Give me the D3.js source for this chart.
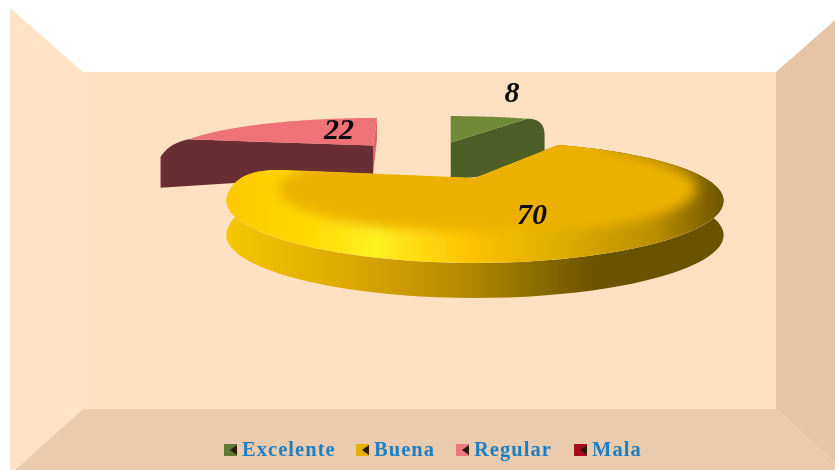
<!DOCTYPE html>
<html><head><meta charset="utf-8">
<script src="https://cdn.jsdelivr.net/npm/d3@7"></script>
<style>html,body{margin:0;padding:0;background:#fff}svg{display:block}</style>
</head><body><div id="c"></div>
<script>
const categories=["Excelente","Buena","Regular","Mala"];
const values=[8,70,22,0];
const topColors=["#6f8a38","#ecb100","#ee7277","#b01218"];
const wallColors=["#4d5f27","url(#wallY)","#672f33","#6a1014"];
const edgeColors=["#4d5f27","#6b5200","#d9656f","#6a1014"];
const swatchColors=["#5f7a30","#e6ae00","#ee7a80","#a8101a"];
const W=835,H=470;
const svg=d3.select("#c").append("svg").attr("width",W).attr("height",H);
const defs=svg.append("defs");
defs.append("filter").attr("id","soft").attr("x","-2%").attr("y","-2%").attr("width","104%").attr("height","104%")
  .append("feGaussianBlur").attr("stdDeviation",0.55);
defs.append("filter").attr("id","bev").attr("filterUnits","userSpaceOnUse").attr("x",150).attr("y",100).attr("width",650).attr("height",250)
  .append("feGaussianBlur").attr("stdDeviation",6);
function grad(id,stops){
  const g=defs.append("linearGradient").attr("id",id).attr("gradientUnits","userSpaceOnUse")
    .attr("x1",226).attr("x2",724).attr("y1",0).attr("y2",0);
  stops.forEach(s=>g.append("stop").attr("offset",s[0]).attr("stop-color",s[1]));
}
grad("wallY",[[0,"#f6c600"],[.25,"#dca800"],[.5,"#b08600"],[.74,"#6b5200"],[1,"#6b5200"]]);
grad("bevelY",[[0,"#ffc800"],[.16,"#ffd800"],[.3,"#fff020"],[.48,"#ffc400"],[.66,"#e0ae00"],[.86,"#bb8e00"],[.95,"#8a6a00"],[1,"#6b5200"]]);

const root=svg.append("g").attr("filter","url(#soft)");
const poly=(pts,f)=>root.append("path").attr("d",d3.line()(pts)+"Z").attr("fill",f);
poly([[10,8],[83,72],[83,409],[15,470],[10,470]],"#fee3c6");
poly([[83,72],[776,72],[776,409],[83,409]],"#fee1c2");
poly([[776,72],[835,20],[835,463],[776,409]],"#e6c5a7");
poly([[83,409],[776,409],[835,463],[835,470],[15,470]],"#ebcbad");

// projection: far parts of the pie are squeezed, near parts stretched
const e=.44,y0=178,x0=475;
const camBack={R:240,a:55,b:.34,bx:.3};
const camFront={R:230,a:51,b:.4,bx:.38};
const pie=d3.pie().sort(null).value(d=>d).startAngle(0).endAngle(2*Math.PI);
const arcs=pie(values);
const yellowMid=(arcs[1].startAngle+arcs[1].endAngle)/2;
function tipOf(arc){
  const m=(arc.startAngle+arc.endAngle)/2;
  const dx=Math.sin(m)-Math.sin(yellowMid), dz=Math.cos(m)-Math.cos(yellowMid);
  const z=e*dz;
  return {z,x:x0+88.7*dx-10.4*z};
}
function proj(tip,X,Z,cam,lean=0){
  const zt=tip.z+Z;
  return [tip.x+cam.R*X/(1+cam.bx*zt)+lean*Z, y0-cam.a*zt/(1+cam.b*zt)];
}
const depth=d3.scaleLinear().domain([-1,0,.8]).range([35,34,28]);
const pol=(r,t)=>[r*Math.sin(t),r*Math.cos(t)];
const qbez=(A,C,B,n=14)=>d3.range(n+1).map(i=>{const u=i/n,v=1-u;
  return [v*v*A[0]+2*u*v*C[0]+u*u*B[0],v*v*A[1]+2*u*v*C[1]+u*u*B[1]];});
function outline(t0,t1,r0,a0,r1,a1){
  const pts=[[0,0]];
  pts.push(...qbez(pol(1-r0,t0),pol(1/Math.cos(a0),t0),pol(1,t0+a0)));
  const tA=t0+a0,tB=t1-a1,n=80;
  for(let i=1;i<n;i++)pts.push(pol(1,tA+(tB-tA)*i/n));
  pts.push(...qbez(pol(1,tB),pol(1/Math.cos(a1),t1),pol(1-r1,t1)));
  return pts;
}
const line=d3.line();
const chart=root.append("g");
function drawSharp(i,bulge){
  const arc=arcs[i],tip=tipOf(arc),g=chart.append("g"),lean=bulge.lean;
  const P=p=>proj(tip,p[0],p[1],camBack,lean);
  const world=outline(arc.startAngle,arc.endAngle,.005,.005,.005,.005);
  const scr=world.map(P);
  const tipS=P([0,0]),tipD=depth(tip.z)+bulge.extra;
  if(i===2){
    const rimW=pol(1,arc.endAngle),rimS=P(rimW),dr=depth(tip.z+rimW[1]);
    g.append("path").attr("d",line([tipS,rimS,[rimS[0],rimS[1]+dr],[tipS[0],tipS[1]+tipD]])+"Z").attr("fill",edgeColors[i]);
  }
  const edgeAngle=bulge.side<0?arc.startAngle:arc.endAngle;
  const C=P(pol(1,edgeAngle));
  const bw=pol(bulge.r,edgeAngle+bulge.side*bulge.da),B=P(bw);
  const ctrl=[B[0]+bulge.cx*(C[0]-B[0]),C[1]+bulge.cy*(B[1]-C[1])];
  const curve=qbez(C,ctrl,B);
  const dB=depth(tip.z+bw[1])+bulge.extra;
  const cap=[tipS,...curve,[B[0],B[1]+dB],[tipS[0],tipS[1]+tipD]];
  g.append("path").attr("d",line(cap)+"Z").attr("fill",wallColors[i]);
  g.append("path").attr("d",line(scr)+"Z").attr("fill",topColors[i]);
}
drawSharp(2,{side:-1,r:1.04,da:.48,cx:.3,cy:.2,lean:4,extra:0});
drawSharp(0,{side:1,r:.57,da:.63,cx:0,cy:0,lean:0,extra:9});
// Buena
(function(){
  const i=1,arc=arcs[i],tip=tipOf(arc),g=chart.append("g");
  const P=p=>proj(tip,p[0],p[1],camFront);
  const world=outline(arc.startAngle,arc.endAngle,.04,.04,.12,.5);
  const scr=world.map(P);
  const bottom=world.map((p,k)=>[scr[k][0],scr[k][1]+depth(tip.z+p[1])]).reverse();
  g.append("path").attr("d",line(scr.concat(bottom))+"Z").attr("fill",wallColors[i]);
  const topD=line(scr)+"Z";
  defs.append("clipPath").attr("id","clipY").append("path").attr("d",topD);
  const cg=g.append("g").attr("clip-path","url(#clipY)");
  cg.append("path").attr("d",topD).attr("fill","url(#bevelY)");
  const bandR=d3.scaleLinear().domain([0,Math.PI/2,Math.PI,1.5*Math.PI,2*Math.PI]).range([.97,.94,.73,.83,.83]);
  const inner=[[0,.1]],t0=arc.startAngle-.5,t1=arc.endAngle+.25,n=80;
  for(let j=0;j<=n;j++){const t=t0+(t1-t0)*j/n;
    inner.push(pol(bandR(Math.max(0,t)),t));}
  inner.push([-.3,1.4],[1.2,1.3]);
  cg.append("path").attr("d",line(inner.map(P))+"Z")
    .attr("fill",topColors[i]).attr("filter","url(#bev)");
})();
// labels
const labelPos=[[512,92],[532,214],[339,129]];
[0,1,2].forEach(i=>{
  root.append("text").attr("x",labelPos[i][0]).attr("y",labelPos[i][1]).attr("dy",".33em")
    .attr("text-anchor","middle").attr("font-family","'Liberation Serif'").attr("font-weight","bold")
    .attr("font-style","italic").attr("font-size",30).attr("fill","#0a0a0a").text(values[i]);
});
// legend
const legX=[224,356,456,574];
const lg=root.append("g");
categories.forEach((c,i)=>{
  const x=legX[i],y=444;
  lg.append("rect").attr("x",x).attr("y",y).attr("width",13).attr("height",12).attr("fill",swatchColors[i]);
  lg.append("path").attr("d",line([[x+13,y+1],[x+6,y+6],[x+13,y+11]])+"Z").attr("fill","#2a1c10");
  lg.append("text").attr("x",x+18).attr("y",456).attr("font-family","'Liberation Serif'")
    .attr("font-weight","bold").attr("font-size",20.5).attr("letter-spacing",1.05).attr("fill","#1f7fc4").text(c);
});
</script></body></html>
